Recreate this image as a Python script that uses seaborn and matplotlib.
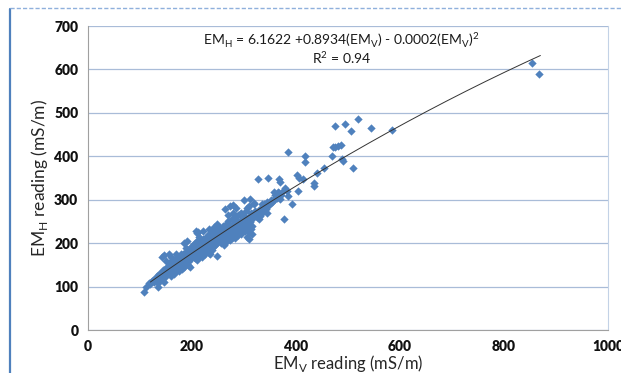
import matplotlib
matplotlib.use('Agg')
import numpy as np
import pandas as pd
import seaborn as sns
import matplotlib.pyplot as plt
from matplotlib.lines import Line2D

# EMv / EMh readings (mS/m), grouped by EMv band
emv_a = [112, 118, 120, 123, 125, 127, 128, 130, 131, 133, 134, 135, 136, 137, 138, 139, 140, 141,
         142, 143, 144, 145, 146, 147, 148, 149, 150, 150, 151, 152, 153, 154, 155, 156, 158]
emh_a = [100, 108, 106, 112, 115, 110, 118, 120, 113, 124, 117, 108, 122, 128, 119, 114, 125, 132,
         121, 130, 126, 138, 133, 129, 122, 140, 131, 136, 145, 128, 142, 137, 148, 132, 150]

emv_b = [152, 154, 155, 157, 158, 159, 160, 161, 162, 163, 164, 165, 166, 167, 168, 169, 170, 171,
         172, 173, 174, 175, 176, 177, 178, 179, 180, 181, 182, 183, 184, 185, 186, 187, 188, 189,
         190, 191, 192, 193, 194, 195, 196, 197, 198, 199, 160, 165, 170, 175, 180, 185, 190, 195,
         172, 178, 184, 188, 193, 198]
emh_b = [140, 135, 155, 145, 128, 150, 142, 160, 138, 148, 133, 158, 145, 152, 140, 165, 148, 138,
         157, 150, 162, 145, 170, 155, 148, 160, 168, 152, 175, 158, 146, 165, 172, 160, 180, 155,
         168, 176, 163, 185, 170, 158, 178, 172, 165, 182, 125, 130, 175, 135, 140, 150, 156, 162,
         166, 174, 160, 188, 150, 190]

emv_c = [200, 201, 202, 203, 204, 205, 206, 207, 208, 209, 210, 211, 212, 213, 214, 215, 216, 217,
         218, 219, 220, 221, 222, 223, 224, 225, 226, 227, 228, 229, 230, 231, 232, 233, 234, 235,
         236, 237, 238, 239, 240, 241, 242, 243, 244, 245, 246, 247, 248, 249, 205, 210, 215, 220,
         225, 230, 235, 240, 245, 250, 212, 222, 232, 242, 248]
emh_c = [180, 172, 195, 185, 168, 200, 178, 190, 175, 205, 185, 170, 198, 188, 215, 180, 192, 176,
         205, 195, 188, 210, 182, 198, 175, 205, 215, 192, 185, 200, 212, 195, 178, 220, 205, 190,
         225, 210, 198, 185, 215, 230, 202, 212, 195, 222, 208, 235, 200, 215, 165, 162, 170, 168,
         175, 182, 175, 190, 198, 240, 225, 228, 232, 238, 245]

emv_d = [251, 252, 254, 255, 256, 258, 259, 260, 261, 262, 263, 264, 265, 266, 267, 268, 269, 270,
         271, 272, 273, 274, 275, 276, 277, 278, 279, 280, 281, 282, 283, 284, 285, 286, 287, 288,
         289, 290, 291, 292, 293, 294, 295, 296, 297, 298, 299, 300, 301, 302, 303, 304, 305, 306,
         307, 308, 309, 310, 311, 312, 313, 314, 315, 316, 318, 320, 322, 325, 255, 262, 270, 278,
         285, 292, 300, 305, 310, 268, 276, 284]
emh_d = [210, 225, 205, 218, 230, 212, 240, 222, 205, 235, 215, 228, 245, 210, 232, 220, 250, 215,
         238, 225, 208, 242, 230, 218, 255, 235, 222, 245, 228, 212, 260, 240, 225, 250, 235, 218,
         265, 245, 230, 252, 238, 222, 270, 248, 232, 255, 240, 262, 245, 228, 275, 250, 235, 280,
         258, 242, 226, 285, 262, 248, 232, 270, 255, 240, 265, 290, 275, 260, 200, 195, 265, 270,
         280, 268, 300, 215, 210, 205, 212, 222]

emv_e = [322, 326, 330, 333, 336, 338, 340, 343, 345, 348, 352, 356, 360, 364, 368, 372, 376, 328,
         334, 344]
emh_e = [268, 275, 262, 280, 272, 290, 285, 278, 295, 288, 300, 298, 310, 305, 315, 312, 322, 255,
         290, 270]

# scattered points away from the main cloud
emv_f = [853, 868, 584, 520, 495, 475, 544, 505, 486, 480, 475, 471, 469, 488, 491, 509, 454, 441,
         435, 435, 418, 418, 384, 401, 406, 414, 403, 393, 377, 326, 347, 367, 369, 379, 382, 365,
         357, 384, 360, 370, 354, 350, 335, 342, 312, 320, 315, 278, 274, 263, 248, 208, 210, 197,
         146, 142, 135, 108, 146, 155, 160, 150, 185, 190]
emh_f = [614, 590, 461, 486, 474, 470, 465, 459, 425, 423, 421, 421, 400, 394, 390, 374, 373, 362,
         339, 331, 400, 386, 409, 356, 350, 347, 320, 289, 255, 348, 350, 347, 340, 327, 320, 318,
         318, 308, 305, 302, 295, 292, 282, 285, 301, 292, 220, 287, 285, 278, 171, 228, 224, 144,
         172, 167, 98, 88, 111, 176, 168, 160, 200, 205]

# quadratic trendline coefficients from the chart label (c0, c1, c2)
trend_coef = [6.1622, 0.8934, -0.0002]

emv = emv_a + emv_b + emv_c + emv_d + emv_e + emv_f
emh = emh_a + emh_b + emh_c + emh_d + emh_e + emh_f
df = pd.DataFrame({'EMv': emv, 'EMh': emh})

sns.set_style('white')
plt.rcParams['font.family'] = ['Lato', 'DejaVu Sans']
plt.rcParams['mathtext.fontset'] = 'custom'
plt.rcParams['mathtext.rm'] = 'Lato'

fig = plt.figure(figsize=(6.21, 3.73), dpi=100)
ax = fig.add_axes([88 / 621, 43 / 373, 520 / 621, 304 / 373])

sns.scatterplot(data=df, x='EMv', y='EMh', marker='D', s=18, color='#4f81bd',
                linewidth=0, ax=ax, zorder=3)

# trendline across the data range
xs = np.linspace(120, 870, 200)
ys = trend_coef[0] + trend_coef[1] * xs + trend_coef[2] * xs ** 2
sns.lineplot(x=xs, y=ys, color='#333333', linewidth=0.7, ax=ax, zorder=4)

ax.set_xlim(0, 1000)
ax.set_ylim(0, 700)
ax.set_xticks([0, 200, 400, 600, 800, 1000])
ax.set_yticks([0, 100, 200, 300, 400, 500, 600, 700])
ax.yaxis.grid(True, color='#a9bcd8', linewidth=0.9)
ax.xaxis.grid(False)
ax.set_axisbelow(True)
for side in ['left', 'bottom']:
    ax.spines[side].set_color('#a0a0a0')
ax.spines['top'].set_visible(False)
ax.spines['right'].set_color('#c3d2e6')
ax.tick_params(axis='both', direction='out', length=4, color='#a0a0a0', width=0.8,
               labelsize=10, labelcolor='#111111', pad=3)
for lab in ax.get_xticklabels() + ax.get_yticklabels():
    lab.set_fontweight('heavy')

ax.set_xlabel(r'EM$_\mathregular{V}$ reading (mS/m)', fontsize=12, color='#262626', labelpad=0)
ax.set_ylabel(r'EM$_\mathregular{H}$ reading (mS/m)', fontsize=12.5, color='#262626', labelpad=3)

ax.text(488, 669, r'EM$_\mathregular{H}$ = 6.1622 +0.8934(EM$_\mathregular{V}$) - 0.0002(EM$_\mathregular{V}$)$^\mathregular{2}$',
        ha='center', va='center', fontsize=10, color='#1a1a1a')
ax.text(488, 627, r'R$^\mathregular{2}$ = 0.94', ha='center', va='center', fontsize=10, color='#1a1a1a')

# chart frame
fig.add_artist(Line2D([10 / 621, 10 / 621], [0, 1 - 9 / 373], color='#4f81bd', linewidth=1.6))
fig.add_artist(Line2D([10 / 621, 1], [1 - 8 / 373, 1 - 8 / 373], color='#8fb0dc', linewidth=1.0,
                      linestyle=(0, (3, 1.5))))

fig.savefig('out.png', dpi=100)
